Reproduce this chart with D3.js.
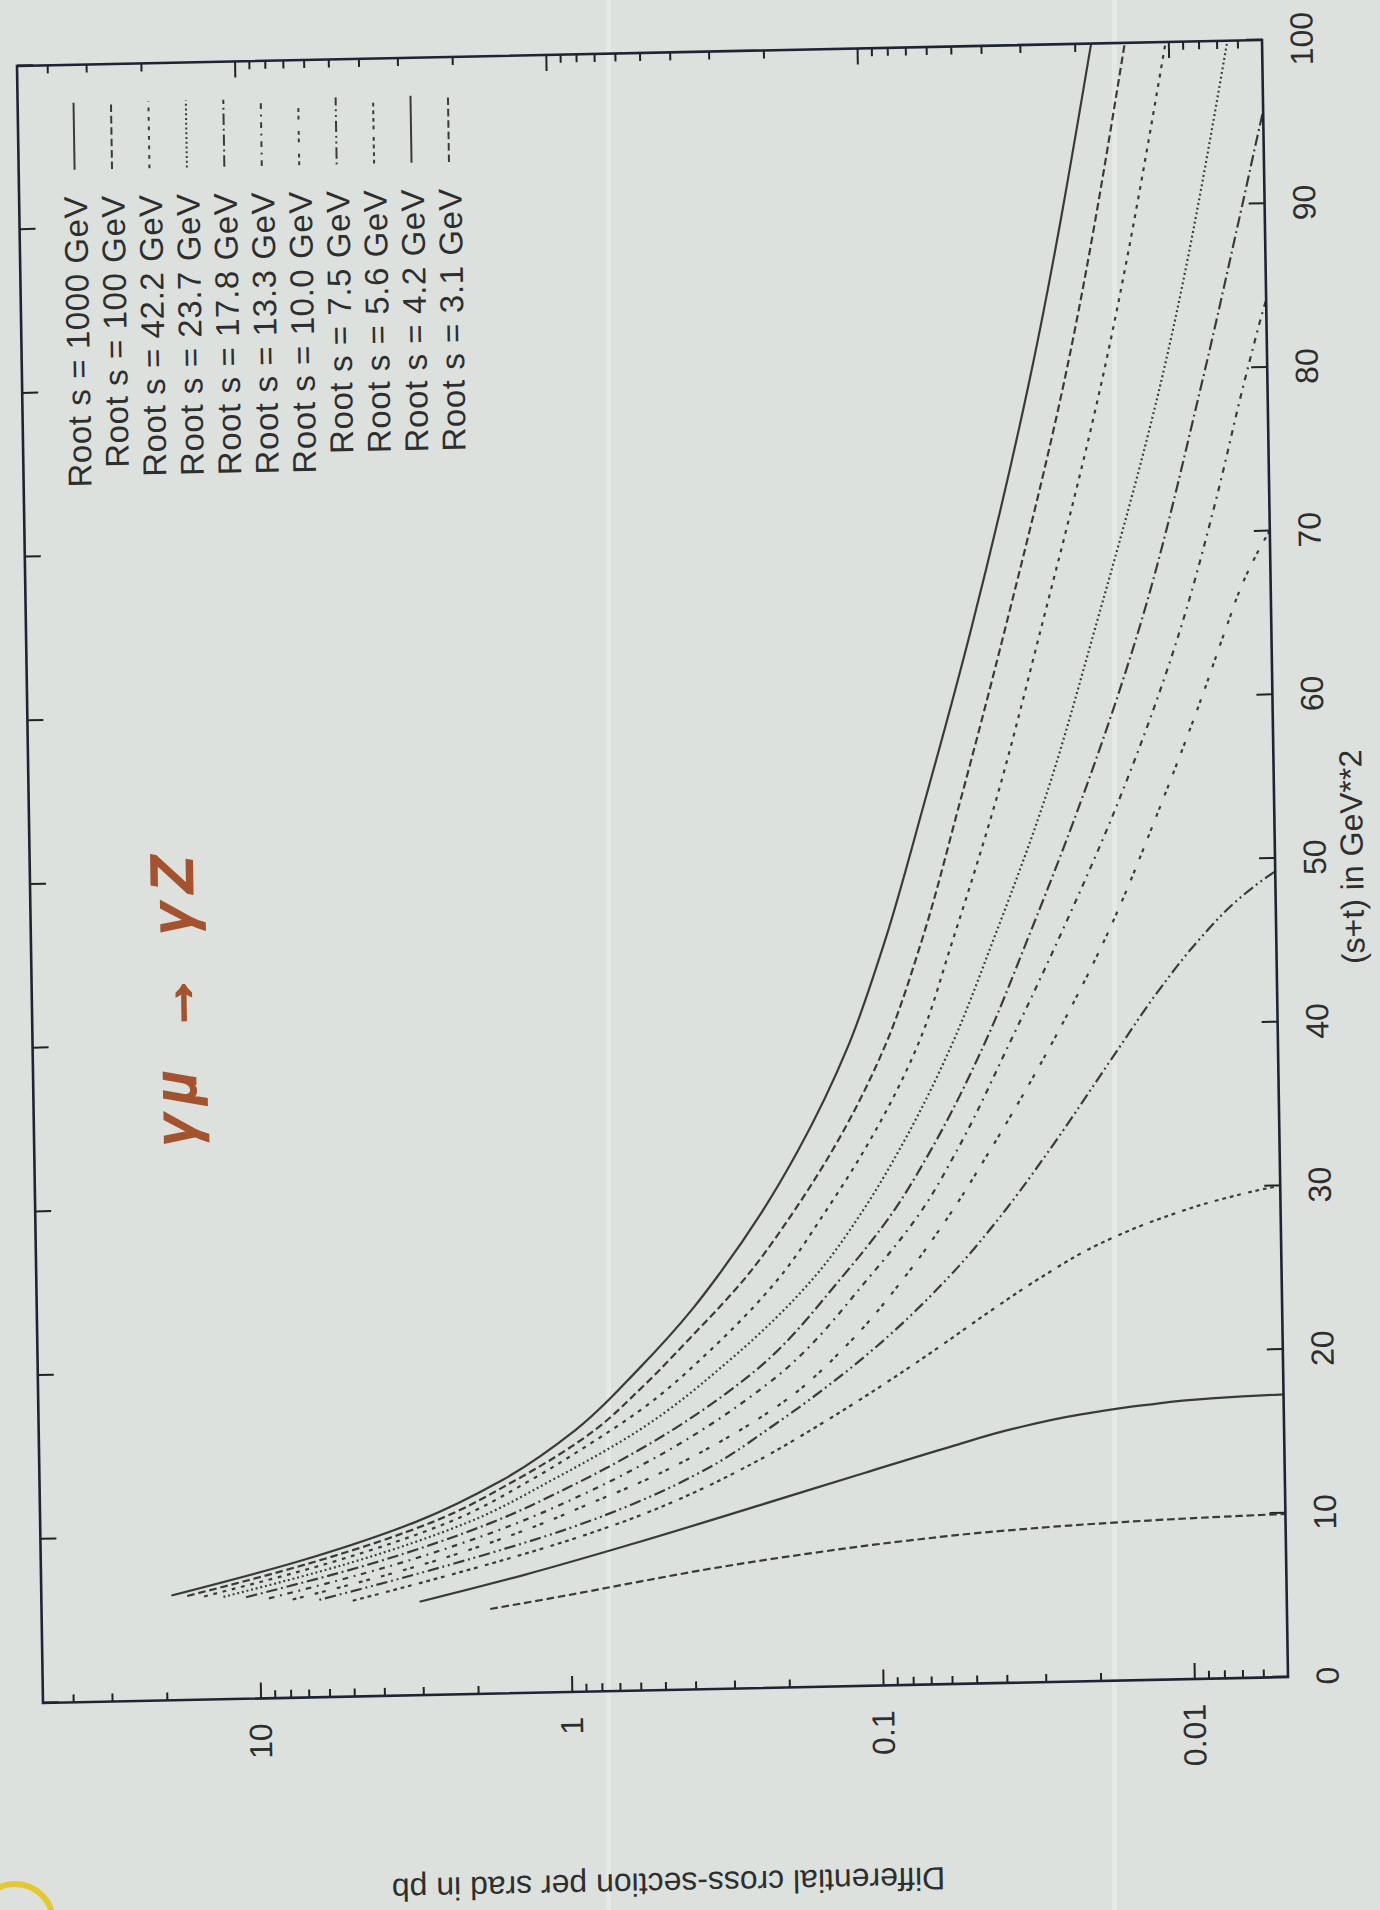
<!DOCTYPE html>
<html lang="en">
<head>
<meta charset="UTF-8">
<title>Differential cross-section</title>
<script src="https://d3js.org/d3.v7.min.js"></script>
<style>
  body { margin: 0; background: #dce1de; }
  svg { display: block; }
  text { font-family: "Liberation Sans", Arial, Helvetica, sans-serif; fill: #2e2e2e; }
</style>
</head>
<body>
<script>
// curves: [s+t in GeV**2, pb per srad]
var rs1000 = [[6.4,19.1],[8.3,7.50],[10.6,3.09],[13.0,1.64],[16.0,0.942],[19.6,0.590],[23.3,0.389],[25.2,0.324],[29,0.233],[32.7,0.177],[39.1,0.120],[45.3,0.0910],[53.7,0.0668],[64.3,0.0462],[79.2,0.0293],[100,0.0177]];
var rs100  = [[6.35,17.0],[8.25,6.67],[10.55,2.75],[13.0,1.48],[16.0,0.813],[18.3,0.590],[21.5,0.398],[25.1,0.263],[29,0.184],[32.7,0.137],[39.1,0.0912],[45.3,0.0692],[53.7,0.0513],[64.3,0.0359],[79.2,0.0226],[100,0.0138]];
var rs42   = [[6.3,15.0],[8.2,5.89],[10.5,2.45],[13.0,1.32],[15.0,0.871],[17.05,0.590],[21,0.331],[25.1,0.204],[29,0.145],[32.7,0.108],[39.1,0.0716],[45.3,0.0550],[53.7,0.0394],[64.3,0.0275],[79.2,0.0171],[100,0.0102]];
var rs23   = [[6.25,13.0],[8.15,5.11],[10.45,2.14],[13.0,1.12],[15.9,0.590],[20,0.302],[25.05,0.158],[29,0.110],[32.7,0.0832],[39.1,0.0556],[45.3,0.0407],[53.7,0.0275],[64.3,0.0184],[79.2,0.0110],[100,0.00646]];
var rs17   = [[6.2,11.0],[8.1,4.32],[10.4,1.80],[12.5,1.00],[14.7,0.590],[19,0.263],[25,0.129],[29,0.0871],[32.6,0.0661],[39.1,0.0437],[45.3,0.0316],[53.7,0.0209],[64.2,0.0133],[79.1,0.00813],[90,0.00589],[96,0.00495],[100,0.00437]];
var rs13   = [[6.1,9.29],[8.0,3.65],[10.3,1.51],[12.0,0.912],[13.7,0.590],[18.5,0.229],[25,0.105],[29,0.0708],[32.6,0.0543],[39.1,0.0363],[45.3,0.0251],[53.7,0.0158],[64.2,0.00977],[72,0.00741],[79,0.00596],[84.4,0.00495],[88,0.00427]];
var rs10   = [[6.0,7.80],[7.9,3.06],[10.2,1.27],[11.5,0.851],[12.7,0.590],[15,0.331],[17.5,0.200],[21,0.123],[24.9,0.0813],[29,0.0562],[32.5,0.0427],[39,0.0266],[45.25,0.0178],[53.7,0.0114],[60,0.00841],[64.1,0.00700],[67,0.00610],[70,0.00501],[73,0.00389]];
var rs7    = [[5.95,6.40],[7.85,2.51],[10.0,1.00],[11.5,0.603],[13.5,0.355],[16,0.219],[20,0.112],[24.86,0.0586],[29,0.0378],[32.5,0.0274],[38,0.0171],[42,0.0121],[45.2,0.00879],[47.5,0.00664],[48.9,0.00530],[50.5,0.00380]];
var rs5    = [[5.85,5.00],[7.75,1.96],[9.0,1.12],[10.5,0.631],[12,0.398],[13.8,0.251],[16,0.155],[18.3,0.0977],[20.5,0.0646],[22.8,0.0427],[24.74,0.0295],[26.7,0.0191],[28.2,0.0120],[29.3,0.00759],[30,0.00501],[30.4,0.00355]];
var rs4    = [[5.7,3.05],[7.2,1.41],[9.0,0.617],[11.2,0.240],[13.0,0.112],[14.5,0.0589],[15.5,0.0372],[16.3,0.0224],[16.8,0.0138],[17.1,0.00871],[17.26,0.00513],[17.35,0.00316]];
var rs3    = [[5.17,1.81],[6.0,0.955],[6.64,0.603],[7.4,0.339],[8.2,0.162],[8.8,0.0832],[9.3,0.0398],[9.65,0.0178],[9.87,0.00794],[9.97,0.00447],[10.0,0.00316]];

var energies = ["1000", "100", "42.2", "23.7", "17.8", "13.3", "10.0", "7.5", "5.6", "4.2", "3.1"];
var series = [rs1000, rs100, rs42, rs23, rs17, rs13, rs10, rs7, rs5, rs4, rs3];
var xTicks = [0, 10, 20, 30, 40, 50, 60, 70, 80, 90, 100];
var yTicks = [0.01, 0.1, 1, 10];
var yTickLabels = ["0.01", "0.1", "1", "10"];

var width = 1380, height = 1910;
var W = 1637, H = 1247;

// gnuplot postscript dash patterns, lt 1..9 then repeating
var dashes = [null, [4,2], [2,3], [1,1.5], [6,2,1,2], [3,3,1,3], [2,2,2,6], [1,2,6,2,1,2], [2,2,2,2,2,2,2,4]];
function dashOf(i) {
    var p = dashes[i % 9];
    return p ? p.map(function(d){ return d * 1.9; }).join(",") : null;
}

var svg = d3.select("body")
        .append("svg")
        .attr("width", width)
        .attr("height", height);

svg.append("rect")
        .attr("width", width)
        .attr("height", height)
        .attr("fill", "#dce1de");

// light scanner streaks
svg.selectAll(".streak")
        .data([608, 1114])
        .enter()
        .append("rect")
        .attr("class", "streak")
        .attr("x", function(d){ return d - 2; })
        .attr("y", 0)
        .attr("width", 5)
        .attr("height", height)
        .attr("fill", "#e5e9e6");

// the page was printed sideways and scanned a little tilted
var g = svg.append("g")
        .attr("transform", "matrix(-0.01588,-1,0.9984,-0.02085,43,1703)");

var x = d3.scaleLinear().domain([0, 100]).range([0, W]);
var y = d3.scaleLog().domain([0.005, 50]).range([H, 0]);

var minor = [];
[0.001, 0.01, 0.1, 1, 10].forEach(function(dec){
    for (var k = 2; k <= 9; k++) {
        var v = dec * k;
        if (v > 0.005 && v < 50) minor.push(v);
    }
});

function tickStyle(sel) {
    sel.select(".domain").remove();
    sel.selectAll("line").attr("stroke", "#222").attr("stroke-width", 2);
    sel.selectAll("text").attr("font-size", 32).attr("fill", "#2e2e2e")
        .attr("font-family", "Liberation Sans, Arial, sans-serif");
}

g.append("g").attr("transform", "translate(0," + H + ")")
        .call(d3.axisBottom(x).tickValues(xTicks).tickSizeInner(-16).tickSizeOuter(0).tickPadding(28))
        .call(tickStyle);
g.append("g")
        .call(d3.axisTop(x).tickValues(xTicks).tickSizeInner(-16).tickSizeOuter(0).tickFormat(""))
        .call(tickStyle);

g.append("g")
        .call(d3.axisLeft(y).tickValues(yTicks).tickSizeInner(-16).tickSizeOuter(0).tickPadding(25)
            .tickFormat(function(d, i){ return yTickLabels[i]; }))
        .call(tickStyle);
g.append("g")
        .call(d3.axisLeft(y).tickValues(minor).tickSizeInner(-8).tickSizeOuter(0).tickFormat(""))
        .call(tickStyle);
g.append("g").attr("transform", "translate(" + W + ",0)")
        .call(d3.axisRight(y).tickValues(yTicks).tickSizeInner(-16).tickSizeOuter(0).tickFormat(""))
        .call(tickStyle);
g.append("g").attr("transform", "translate(" + W + ",0)")
        .call(d3.axisRight(y).tickValues(minor).tickSizeInner(-8).tickSizeOuter(0).tickFormat(""))
        .call(tickStyle);

g.append("clipPath").attr("id", "plotclip")
        .append("rect").attr("width", W).attr("height", H);

var line = d3.line()
        .x(function(d){ return x(d[0]); })
        .y(function(d){ return y(d[1]); })
        .curve(d3.curveMonotoneX);

g.append("g").attr("clip-path", "url(#plotclip)")
        .selectAll("path")
        .data(series)
        .enter()
        .append("path")
        .attr("d", line)
        .attr("fill", "none")
        .attr("stroke", "#3a3a3a")
        .attr("stroke-width", 2.2)
        .attr("stroke-dasharray", function(d, i){ return dashOf(i); });

// frame
g.append("rect")
        .attr("width", W)
        .attr("height", H)
        .attr("fill", "none")
        .attr("stroke", "#1e2433")
        .attr("stroke-width", 2.6);

// key
var key = g.selectAll(".key")
        .data(energies)
        .enter()
        .append("g")
        .attr("class", "key")
        .attr("transform", function(d, i){ return "translate(0," + (56 + 37.5 * i) + ")"; });

key.append("text")
        .attr("x", 1506)
        .attr("y", 12)
        .attr("text-anchor", "end")
        .attr("font-size", 33)
        .attr("letter-spacing", 0.6)
        .text(function(d){ return "Root s = " + d + " GeV"; });

key.append("line")
        .attr("x1", 1532)
        .attr("x2", 1599)
        .attr("stroke", "#3a3a3a")
        .attr("stroke-width", 2)
        .attr("stroke-dasharray", function(d, i){ return dashOf(i); });

// axis titles
g.append("text")
        .attr("x", W / 2)
        .attr("y", H + 88)
        .attr("text-anchor", "middle")
        .attr("font-size", 32)
        .text("(s+t) in GeV**2");

g.append("text")
        .attr("transform", "translate(-183," + (H / 2) + ") rotate(-90)")
        .attr("text-anchor", "middle")
        .attr("font-size", 32)
        .text("Differential cross-section per srad in pb");

// pen note on the print
g.append("text")
        .attr("x", 555)
        .attr("y", 162)
        .attr("textLength", 288)
        .attr("lengthAdjust", "spacing")
        .attr("font-size", 58)
        .attr("font-style", "italic")
        .attr("font-family", "DejaVu Sans, sans-serif")
        .attr("stroke", "#a5522e")
        .attr("stroke-width", 3)
        .style("fill", "#a5522e")
        .text("γμ → γZ");

// highlighter mark in the corner
svg.append("circle")
        .attr("cx", 15)
        .attr("cy", 1922)
        .attr("r", 38)
        .attr("fill", "none")
        .attr("stroke", "#e6c72e")
        .attr("stroke-width", 6);
</script>
</body>
</html>
